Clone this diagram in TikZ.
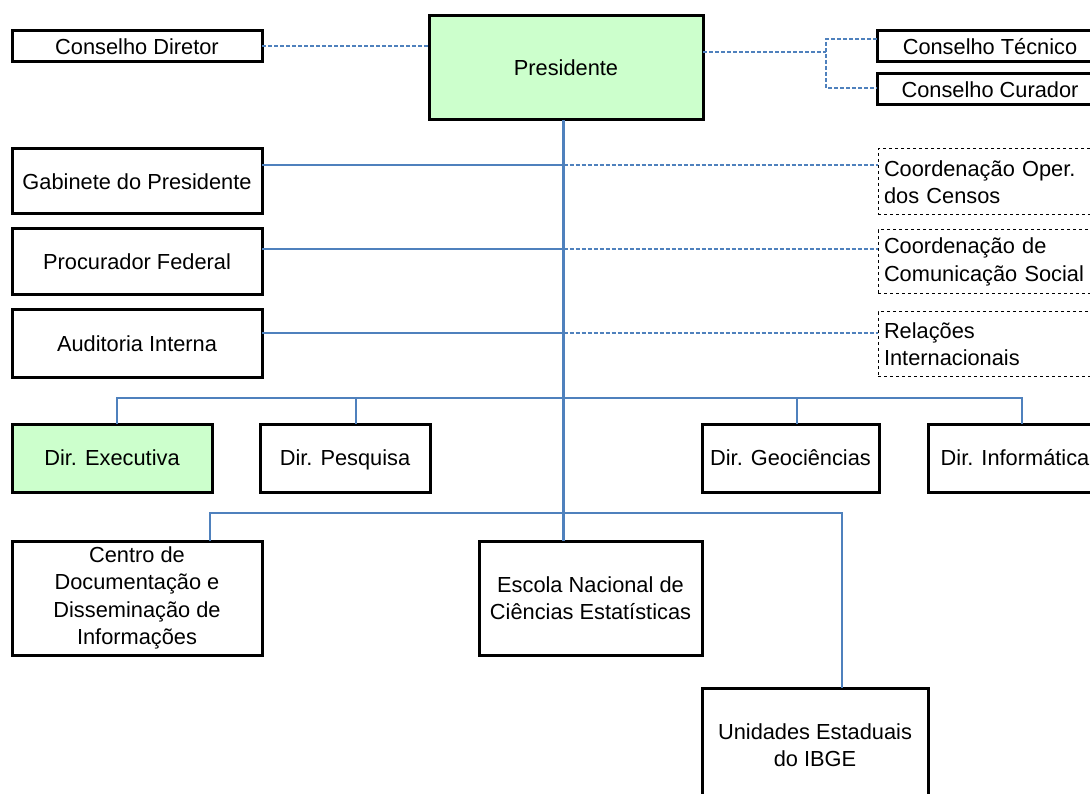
\documentclass[tikz,border=0pt]{standalone}
\usepackage{fontspec}
\setmainfont{Liberation Sans}
\definecolor{lineblue}{HTML}{4F81BD}
\definecolor{boxgreen}{HTML}{CCFFCC}
\begin{document}
\begin{tikzpicture}[x=1pt,y=-1pt,
  every node/.style={font=\fontsize{21.8}{27.5}\selectfont, text=black},
  box/.style={draw=black, line width=3pt, fill=white, inner sep=0pt, outer sep=0pt, align=center},
  gbox/.style={box, fill=boxgreen},
  one/.style={text height=15.6pt, text depth=0pt},
  dbox/.style={draw=black, line width=1pt, dashed, fill=white, inner xsep=6pt, inner ysep=0pt, outer sep=0pt, align=left, text width=220pt},
  bl/.style={draw=lineblue, line width=2pt},
  bd/.style={draw=lineblue, line width=2pt, dash pattern=on 4pt off 2pt}
]
\useasboundingbox (0,0) rectangle (1090,794);
\fill[white] (0,0) rectangle (1090,794);

% top row
\node[box, one, minimum width=250pt, minimum height=31pt] (cd) at (137,46.5) {Conselho Diretor};
\node[gbox, one, minimum width=274pt, minimum height=104pt] (pres) at (566,68) {Presidente};
\node[box, one, minimum width=226pt, minimum height=31pt] (ct) at (990,46.5) {Conselho Técnico};
\node[box, one, minimum width=226pt, minimum height=31pt] (cc) at (990,89.5) {Conselho Curador};

% left staff
\node[box, one, minimum width=250pt, minimum height=65pt] (gab) at (137,181.5) {Gabinete do Presidente};
\node[box, one, minimum width=250pt, minimum height=66pt] (proc) at (137,262) {Procurador Federal};
\node[box, one, minimum width=250pt, minimum height=67pt] (aud) at (137,343.5) {Auditoria Interna};

% right staff (dashed)
\node[dbox, minimum height=66pt] (cop) at (994,182) {Coordenação Oper.\\dos Censos};
\node[dbox, minimum height=64pt] (ccs) at (994,262) {Coordenação de\\Comunicação Social};
\node[dbox, minimum height=64pt] (ri) at (994,344) {Relações\\Internacionais};

% directorates
\node[gbox, one, minimum width=200pt, minimum height=68pt] (dex) at (112,458) {Dir. Executiva};
\node[box, one, minimum width=170pt, minimum height=68pt] (dpe) at (345,458) {Dir. Pesquisa};
\node[box, one, minimum width=177pt, minimum height=68pt] (dge) at (790.5,458) {Dir. Geociências};
\node[box, one, minimum width=174pt, minimum height=68pt] (dinf) at (1015,458) {Dir. Informática};

% lower units
\node[box, minimum width=250pt, minimum height=114pt] (cdd) at (137,598) {Centro de\\Documentação e\\Disseminação de\\Informações};
\node[box, minimum width=223pt, minimum height=114pt] (enc) at (590.5,598) {Escola Nacional de\\Ciências Estatísticas};
\node[box, minimum width=226pt, minimum height=114pt] (ue) at (815,745) {Unidades Estaduais\\do IBGE};

% dashed council connectors
\draw[bd] (cd.east) -- (cd.east -| pres.west);
\coordinate (pj) at ([yshift=16pt]pres.east);
\coordinate (jx) at (826,52);
\draw[bd] (pj) -- (jx);
\draw[bd] ([yshift=7.5pt]ct.west) -| (jx) |- ([yshift=1.5pt]cc.west);

% trunk
\coordinate (t0) at ([xshift=-2.5pt]pres.south);
\draw[draw=lineblue, line width=3pt] (t0) -- (t0 |- enc.north);

% staff lines
\coordinate (g1) at ([yshift=16.5pt]gab.east);
\draw[bl] (g1) -- (g1 -| t0);
\draw[bd] (g1 -| t0) -- (g1 -| cop.west);
\coordinate (g2) at ([yshift=13pt]proc.east);
\draw[bl] (g2) -- (g2 -| t0);
\draw[bd] (g2 -| t0) -- (g2 -| ccs.west);
\coordinate (g3) at ([yshift=10.5pt]aud.east);
\draw[bl] (g3) -- (g3 -| t0);
\draw[bd] (g3 -| t0) -- (g3 -| ri.west);

% directorate bus
\coordinate (d1) at ([xshift=5pt]dex.north);
\coordinate (d2) at ([xshift=11pt]dpe.north);
\coordinate (d3) at ([xshift=6.5pt]dge.north);
\coordinate (d4) at ([xshift=7pt]dinf.north);
\draw[bl] (d1) -- (d1 |- 0,398) -- (d4 |- 0,398) -- (d4);
\draw[bl] (d2) -- (d2 |- 0,398);
\draw[bl] (d3) -- (d3 |- 0,398);

% lower bus
\coordinate (u1) at ([xshift=73pt]cdd.north);
\coordinate (u2) at ([xshift=27pt]ue.north);
\draw[bl] (u1) -- (u1 |- 0,513) -- (u2 |- 0,513) -- (u2);
\end{tikzpicture}
\end{document}
